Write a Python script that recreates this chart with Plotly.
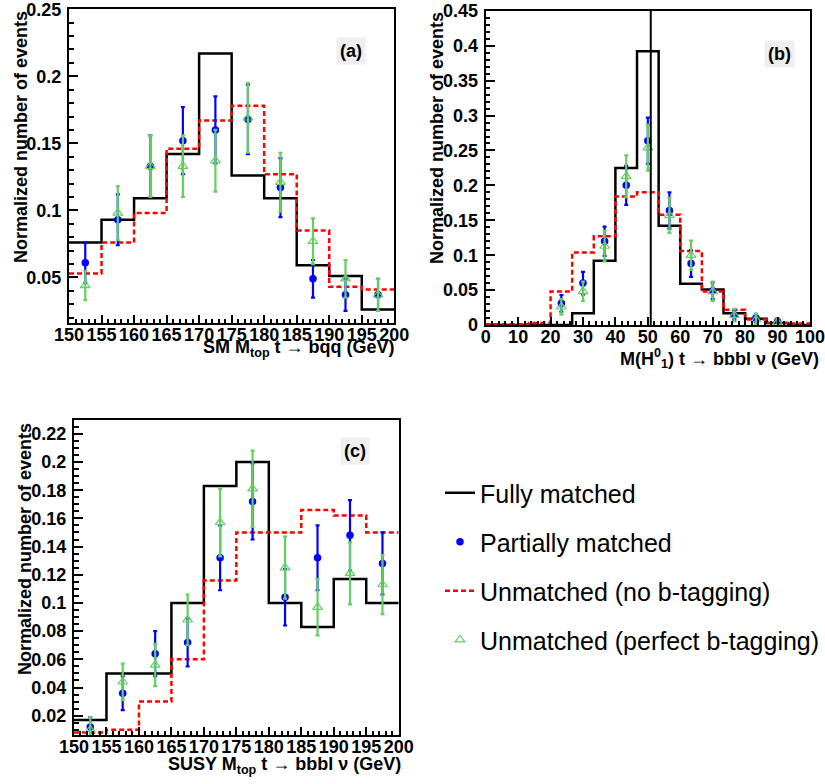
import plotly.graph_objects as go

# ---------------- data ----------------
# panel (a): SM top mass, t -> bqq
a_edges = [150, 155, 160, 165, 170, 175, 180, 185, 190, 195, 200]
a_centers = [152.5, 157.5, 162.5, 167.5, 172.5, 177.5, 182.5, 187.5, 192.5, 197.5]
a_full = [0.076, 0.093, 0.109, 0.142, 0.217, 0.126, 0.109, 0.059, 0.051, 0.026]
a_unm_nob = [0.053, 0.076, 0.098, 0.146, 0.167, 0.178, 0.127, 0.085, 0.043, 0.041]
a_part = [0.061, 0.093, 0.133, 0.152, 0.160, 0.168, 0.117, 0.049, 0.037, 0.037]
a_part_err = [0.015, 0.019, 0.023, 0.025, 0.025, 0.026, 0.022, 0.014, 0.012, 0.012]
a_perf = [0.044, 0.098, 0.133, 0.133, 0.137, 0.169, 0.121, 0.077, 0.049, 0.037]
a_perf_err = [0.011, 0.020, 0.023, 0.023, 0.023, 0.026, 0.022, 0.017, 0.014, 0.012]

# panel (b): M(H1^0), t -> bbbl nu
b_edges = [0, 6.667, 13.333, 20, 26.667, 33.333, 40, 46.667, 53.333, 60,
           66.667, 73.333, 80, 86.667, 93.333, 100]
b_centers = [23.333, 30, 36.667, 43.333, 50, 56.667, 63.333, 70, 76.667, 83.333, 90]
b_full = [0, 0, 0, 0, 0.017, 0.092, 0.225, 0.392, 0.142, 0.059, 0.051, 0.017, 0.009, 0.003, 0]
b_unm_nob = [0.001, 0.001, 0.003, 0.048, 0.104, 0.127, 0.184, 0.190, 0.158, 0.106, 0.048,
             0.022, 0.008, 0.003, 0.002]
b_part = [0.031, 0.060, 0.120, 0.200, 0.264, 0.164, 0.088, 0.049, 0.014, 0.010, 0.005]
b_part_err = [0.012, 0.016, 0.021, 0.028, 0.033, 0.026, 0.019, 0.012, 0.007, 0.006, 0.004]
b_perf = [0.026, 0.048, 0.113, 0.213, 0.254, 0.157, 0.100, 0.048, 0.014, 0.008, 0.004]
b_perf_err = [0.011, 0.014, 0.022, 0.030, 0.033, 0.025, 0.021, 0.014, 0.009, 0.008, 0.004]
b_marker_mass = 50.9

# panel (c): SUSY top mass, t -> bbbl nu
c_edges = [150, 155, 160, 165, 170, 175, 180, 185, 190, 195, 200]
c_centers = [152.5, 157.5, 162.5, 167.5, 172.5, 177.5, 182.5, 187.5, 192.5, 197.5]
c_full = [0.017, 0.050, 0.050, 0.100, 0.183, 0.200, 0.100, 0.083, 0.117, 0.100]
c_unm_nob = [0.008, 0.010, 0.030, 0.060, 0.116, 0.150, 0.150, 0.166, 0.162, 0.150]
c_part = [0.012, 0.036, 0.064, 0.072, 0.132, 0.172, 0.104, 0.132, 0.148, 0.128]
c_part_err = [0.007, 0.012, 0.016, 0.017, 0.023, 0.027, 0.020, 0.023, 0.025, 0.022]
c_perf = [0.010, 0.044, 0.056, 0.088, 0.157, 0.181, 0.125, 0.097, 0.121, 0.113]
c_perf_err = [0.009, 0.013, 0.015, 0.018, 0.024, 0.027, 0.022, 0.020, 0.022, 0.021]

series_names = ["Fully matched", "Partially matched",
                "Unmatched (no b-tagging)", "Unmatched (perfect b-tagging)"]

# ---------------- style ----------------
W, H = 825, 784
FONT = "Liberation Sans, Arial, sans-serif"
BLACK = "#000000"
RED = "#ff0000"
BLUE = "#0000ff"
GREEN = "#62cf62"

fig = go.Figure()

panels = [
    dict(ax="", edges=a_edges, centers=a_centers, full=a_full, unm=a_unm_nob,
         part=a_part, perr=a_part_err, perf=a_perf, ferr=a_perf_err, legend=True),
    dict(ax="2", edges=b_edges, centers=b_centers, full=b_full, unm=b_unm_nob,
         part=b_part, perr=b_part_err, perf=b_perf, ferr=b_perf_err, legend=False),
    dict(ax="3", edges=c_edges, centers=c_centers, full=c_full, unm=c_unm_nob,
         part=c_part, perr=c_part_err, perf=c_perf, ferr=c_perf_err, legend=False),
]

for p in panels:
    xa, ya = "x" + p["ax"], "y" + p["ax"]
    fig.add_trace(go.Scatter(
        x=p["edges"], y=p["full"] + [p["full"][-1]], mode="lines", line_shape="hv",
        line=dict(color=BLACK, width=2.5), name=series_names[0], legendgroup="g0",
        showlegend=p["legend"], legendrank=1, xaxis=xa, yaxis=ya))
    fig.add_trace(go.Scatter(
        x=p["edges"], y=p["unm"] + [p["unm"][-1]], mode="lines", line_shape="hv",
        line=dict(color=RED, width=2.5, dash="5px,3px"), name=series_names[2],
        legendgroup="g2", showlegend=p["legend"], legendrank=3, xaxis=xa, yaxis=ya))
    fig.add_trace(go.Scatter(
        x=p["centers"], y=p["part"], mode="markers",
        marker=dict(color=BLUE, size=7.5, symbol="circle"),
        error_y=dict(type="data", array=p["perr"], color=BLUE, thickness=2.2, width=2),
        name=series_names[1], legendgroup="g1", showlegend=p["legend"], legendrank=2,
        xaxis=xa, yaxis=ya))
    fig.add_trace(go.Scatter(
        x=p["centers"], y=p["perf"], mode="markers",
        marker=dict(color=GREEN, size=8.5, symbol="triangle-up-open", line=dict(width=1.2)),
        error_y=dict(type="data", array=p["ferr"], color=GREEN, thickness=2.2, width=2),
        name=series_names[3], legendgroup="g3", showlegend=p["legend"], legendrank=4,
        xaxis=xa, yaxis=ya))

tickfont = dict(family=FONT, size=18, color=BLACK, weight="bold")


def xaxis(dom, anchor, rng, dtick, mdtick):
    return dict(domain=dom, anchor=anchor, range=rng, dtick=dtick, tick0=0,
                ticks="inside", ticklen=8, tickwidth=2, tickcolor=BLACK,
                minor=dict(dtick=mdtick, ticks="inside", ticklen=4, tickwidth=1.5,
                           tickcolor=BLACK),
                showline=True, linecolor=BLACK, linewidth=2, mirror=True,
                showgrid=False, zeroline=False, tickfont=tickfont, ticklabelstandoff=-6,
                ticklabeloverflow="allow")


def yaxis(dom, anchor, rng, dtick, mdtick):
    return dict(domain=dom, anchor=anchor, range=rng, dtick=dtick, tick0=0,
                ticks="inside", ticklen=9, tickwidth=2, tickcolor=BLACK,
                minor=dict(dtick=mdtick, ticks="inside", ticklen=4.5, tickwidth=1.5,
                           tickcolor=BLACK),
                showline=True, linecolor=BLACK, linewidth=2, mirror=True,
                showgrid=False, zeroline=False, tickfont=tickfont, ticklabelstandoff=2,
                ticklabeloverflow="allow")


def px_x(v):
    return v / W


def px_y(v):
    return 1 - v / H


fig.update_layout(
    width=W, height=H,
    margin=dict(l=0, r=0, t=0, b=0, autoexpand=False),
    paper_bgcolor="white", plot_bgcolor="white",
    font=dict(family=FONT, color=BLACK),
    xaxis=xaxis([px_x(69), px_x(394.3)], "y", [150, 200], 5, 1),
    yaxis=yaxis([px_y(323.3), px_y(9)], "x", [0.0158, 0.2502], 0.05, 0.01),
    xaxis2=xaxis([px_x(485.7), px_x(810)], "y2", [0, 100.01], 10, 2),
    yaxis2=yaxis([px_y(325), px_y(10.7)], "x2", [0, 0.4502], 0.05, 0.01),
    xaxis3=xaxis([px_x(74), px_x(398.7)], "y3", [150, 200], 5, 1),
    yaxis3=yaxis([px_y(735), px_y(420)], "x3", [0.0063, 0.2298], 0.02, 0.005),
    showlegend=True,
    legend=dict(x=px_x(440), y=px_y(470), xanchor="left", yanchor="top",
                font=dict(family=FONT, size=25, color=BLACK),
                bgcolor="rgba(0,0,0,0)", borderwidth=0, tracegroupgap=13.5,
                itemwidth=30),
)

fig.add_shape(type="line", xref="x2", yref="y2 domain", x0=b_marker_mass, x1=b_marker_mass,
              y0=0, y1=1, line=dict(color=BLACK, width=2))

title_font = dict(family=FONT, size=18, color=BLACK, weight="bold")
annots = [
    # y titles
    dict(text="Normalized number of events", x=px_x(21), y=px_y(9), textangle=-90,
         xanchor="center", yanchor="top"),
    dict(text="Normalized number of events", x=px_x(437), y=px_y(10), textangle=-90,
         xanchor="center", yanchor="top"),
    dict(text="Normalized number of events", x=px_x(25), y=px_y(421), textangle=-90,
         xanchor="center", yanchor="top"),
    # x titles
    dict(text="SM M<sub>top</sub> t \u2192 bqq (GeV)", x=px_x(397), y=px_y(348),
         xanchor="right", yanchor="middle"),
    dict(text="M(H<sup>0</sup><sub>1</sub>) t \u2192 bbbl \u03bd (GeV)", x=px_x(821),
         y=px_y(358), xanchor="right", yanchor="middle"),
    dict(text="SUSY M<sub>top</sub> t \u2192 bbbl \u03bd (GeV)", x=px_x(403), y=px_y(765),
         xanchor="right", yanchor="middle"),
]
for a in annots:
    fig.add_annotation(xref="paper", yref="paper", showarrow=False, font=title_font, **a)

for lbl, cx, cy in [("(a)", 350.5, 51), ("(b)", 779, 54), ("(c)", 355, 451)]:
    fig.add_annotation(xref="paper", yref="paper", x=px_x(cx), y=px_y(cy), text=lbl,
                       showarrow=False, xanchor="center", yanchor="middle",
                       font=title_font, bgcolor="#efefef", borderpad=3)

# remove the default 8px page margin so the figure fills the window exactly
fig.write_html("out.html", config={"displayModeBar": False},
               post_script="document.body.style.margin='0';")
